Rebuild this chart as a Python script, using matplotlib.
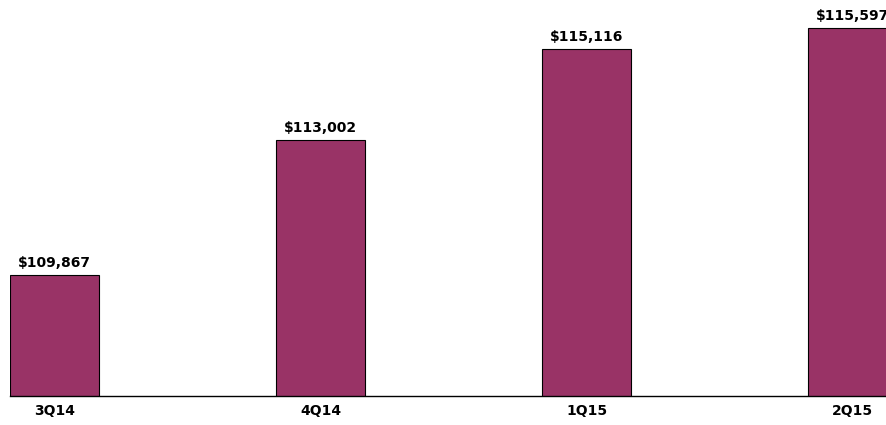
import matplotlib.pyplot as plt

quarters = ['3Q14', '4Q14', '1Q15', '2Q15']
values = [109867, 113002, 115116, 115597]
labels = ['$109,867', '$113,002', '$115,116', '$115,597']

fig = plt.figure(figsize=(8.86, 4.25), dpi=100)
ax = fig.add_axes([10 / 886, 1 - 396 / 425, 1 - 10 / 886, 396 / 425])

x = range(len(quarters))
bars = ax.bar(x, values, width=0.335, color='#993366', edgecolor='#000000', linewidth=0.8)

for xi, v, lab in zip(x, values, labels):
    ax.annotate(lab, (xi, v), xytext=(0, 6), textcoords='offset points',
                ha='center', va='baseline', fontsize=10, fontweight='bold',
                family='DejaVu Sans', annotation_clip=False)

ax.set_xlim(-0.1675, 3.126)
ax.set_ylim(107056, 116255)
ax.set_xticks(list(x))
ax.set_xticklabels(quarters, fontsize=10, fontweight='bold', family='DejaVu Sans')
ax.tick_params(axis='x', length=0, pad=6)
ax.set_yticks([])
for s in ['top', 'right', 'left']:
    ax.spines[s].set_visible(False)
ax.spines['bottom'].set_linewidth(1.0)

fig.savefig('out.png', dpi=100)
